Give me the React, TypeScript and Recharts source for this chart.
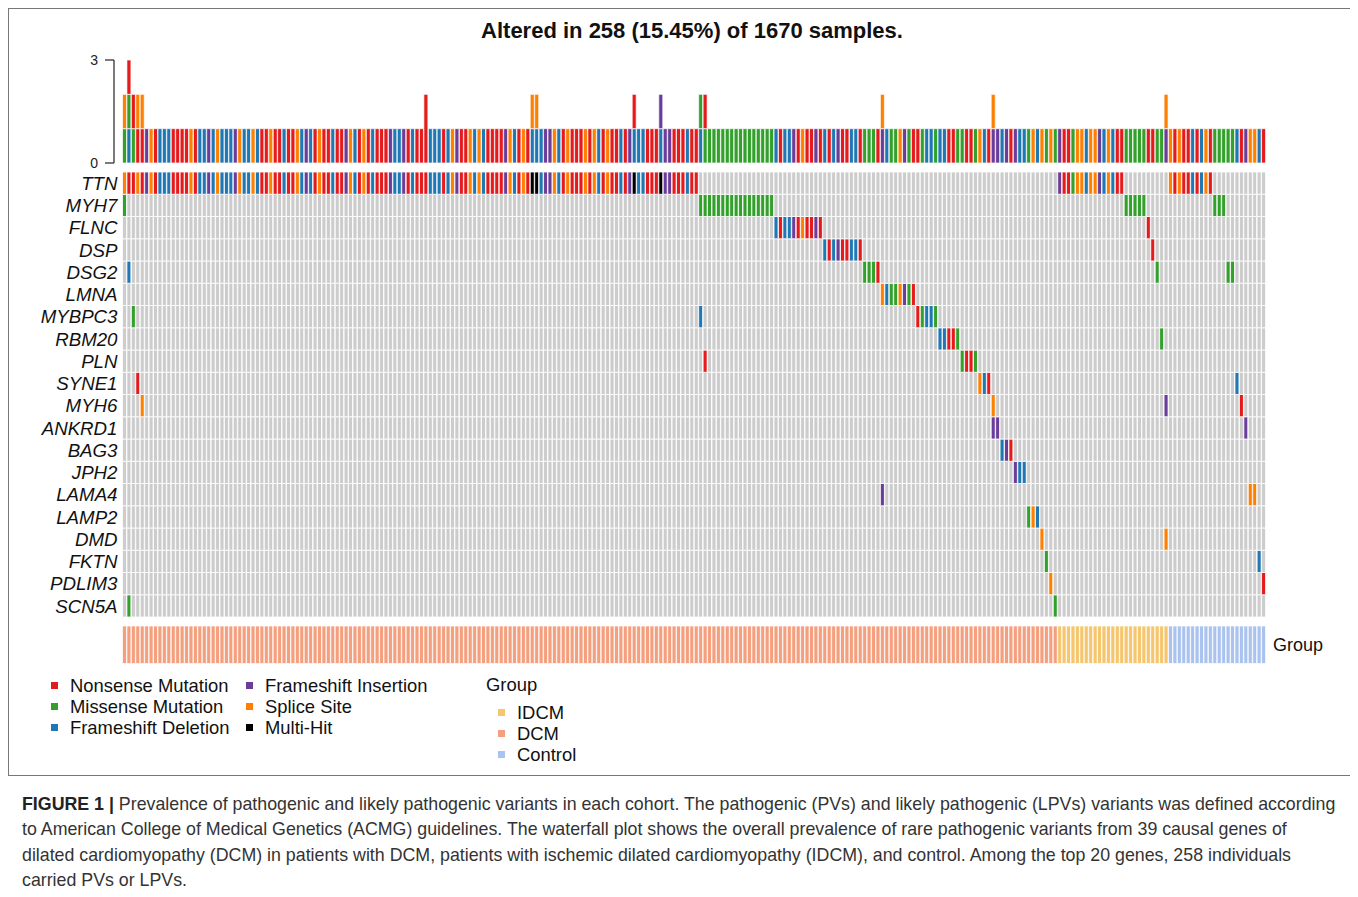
import React from "react";
import { BarChart, Bar, XAxis, YAxis, Cell } from "recharts";

// ---------------- DATA ----------------
const GENES = [
  "TTN", "MYH7", "FLNC", "DSP", "DSG2", "LMNA", "MYBPC3", "RBM20", "PLN", "SYNE1",
  "MYH6", "ANKRD1", "BAG3", "JPH2", "LAMA4", "LAMP2", "DMD", "FKTN", "PDLIM3", "SCN5A",
];
const TOTAL_SAMPLES = 1670;
const GROUP_NAMES = ["DCM", "IDCM", "Control"];
const GROUP_SIZES = [211, 25, 22];
const LEGEND_GROUP_ORDER = ["IDCM", "DCM", "Control"];

// variant codes: N nonsense, M missense, D frameshift deletion, I frameshift insertion, S splice site, H multi-hit
const VARIANT_CODES = ["N", "M", "D", "I", "S", "H"];
const VARIANT_LABELS = [
  "Nonsense Mutation", "Missense Mutation", "Frameshift Deletion",
  "Frameshift Insertion", "Splice Site", "Multi-Hit",
];
const TOP_STACK_ORDER = ["D", "M", "N", "I", "S"];
const TOP_TICKS = [0, 3];

// runs of consecutive samples: [first sample index, codes]
const TTN_DCM = [
  "SNNSNISNDD", "DNNNNSNDDI", "DSDDDISDDS", "DNNSNNDNNS", "DIDNSNNDNN",
  "ISDNSNDNNN", "IDDINDNNND", "DDNDSINNSD", "SDNNNNISDN", "SNHHDIISDN",
  "SNNNSNSDNS", "NNDNIHDDNN", "NHIINNNDNN",
].join("");
const RUNS_TTN: [number, string][] = [[0, TTN_DCM], [211, "INNMSSDSSIDSDNN"], [236, "SNSNNDNDSN"]];
const RUNS_MYH7: [number, string][] = [[0, "M"], [130, "MMMMMMMMMMMMMMMMM"], [226, "MMMMM"], [246, "MMM"]];
const RUNS_FLNC: [number, string][] = [[147, "DNDDINSNNIN"], [231, "N"]];
const RUNS_DSP: [number, string][] = [[158, "DNDINNDDN"], [232, "N"]];
const RUNS_DSG2: [number, string][] = [[1, "D"], [167, "MMMN"], [233, "M"], [249, "MM"]];
const RUNS_LMNA: [number, string][] = [[171, "SDMMSIMN"]];
const RUNS_MYBPC3: [number, string][] = [[2, "M"], [130, "D"], [179, "NMDDM"]];
const RUNS_RBM20: [number, string][] = [[184, "DDNNM"], [234, "M"]];
const RUNS_PLN: [number, string][] = [[131, "N"], [189, "MNNM"]];
const RUNS_SYNE1: [number, string][] = [[3, "N"], [193, "SDN"], [251, "D"]];
const RUNS_MYH6: [number, string][] = [[4, "S"], [196, "S"], [235, "I"], [252, "N"]];
const RUNS_ANKRD1: [number, string][] = [[196, "II"], [253, "I"]];
const RUNS_BAG3: [number, string][] = [[198, "DIN"]];
const RUNS_JPH2: [number, string][] = [[201, "IDD"]];
const RUNS_LAMA4: [number, string][] = [[171, "I"], [254, "SS"]];
const RUNS_LAMP2: [number, string][] = [[204, "MSD"]];
const RUNS_DMD: [number, string][] = [[207, "S"], [235, "S"]];
const RUNS_FKTN: [number, string][] = [[208, "M"], [256, "D"]];
const RUNS_PDLIM3: [number, string][] = [[209, "S"], [257, "N"]];
const RUNS_SCN5A: [number, string][] = [[1, "M"], [210, "M"]];

// variants in genes outside the top 20 (counted in the top bar only)
const EXTRA_VARIANTS: [number, string][] = [[68, "N"]];
// composition of multi-hit cells
const MULTI_HIT_PARTS: [number, string][] = [[92, "DS"], [93, "DS"], [115, "DN"], [121, "DI"]];

// ---------------- STYLE ----------------
const VARIANT_COLORS: Record<string, string> = {
  N: "#E41A1C", M: "#33A02C", D: "#1F78B4", I: "#6A3D9A", S: "#FF7F00", H: "#000000",
};
const GROUP_COLORS: Record<string, string> = { DCM: "#F4A07F", IDCM: "#F5C66E", Control: "#AAC3EE" };
const BG = "#CCCCCC";
const FONT = "'Liberation Sans', Arial, Helvetica, sans-serif";

// ---------------- DERIVED ----------------
const GENE_RUNS: Record<string, [number, string][]> = {
  TTN: RUNS_TTN, MYH7: RUNS_MYH7, FLNC: RUNS_FLNC, DSP: RUNS_DSP, DSG2: RUNS_DSG2,
  LMNA: RUNS_LMNA, MYBPC3: RUNS_MYBPC3, RBM20: RUNS_RBM20, PLN: RUNS_PLN, SYNE1: RUNS_SYNE1,
  MYH6: RUNS_MYH6, ANKRD1: RUNS_ANKRD1, BAG3: RUNS_BAG3, JPH2: RUNS_JPH2, LAMA4: RUNS_LAMA4,
  LAMP2: RUNS_LAMP2, DMD: RUNS_DMD, FKTN: RUNS_FKTN, PDLIM3: RUNS_PDLIM3, SCN5A: RUNS_SCN5A,
};
const N_SAMPLES = GROUP_SIZES.reduce((a, b) => a + b, 0);

const MATRIX: Record<string, string[]> = {};
GENES.forEach((g) => {
  const arr: string[] = new Array(N_SAMPLES).fill("");
  GENE_RUNS[g].forEach(([start, codes]) => {
    for (let k = 0; k < codes.length; k++) arr[start + k] = codes[k];
  });
  MATRIX[g] = arr;
});

const sampleGroup: string[] = [];
GROUP_NAMES.forEach((name, gi) => {
  for (let k = 0; k < GROUP_SIZES[gi]; k++) sampleGroup.push(name);
});

const multiMap: Record<number, string> = {};
MULTI_HIT_PARTS.forEach(([s, c]) => (multiMap[s] = c));

const matrixData = Array.from({ length: N_SAMPLES }, (_, i) => {
  const row: Record<string, number> = { sample: i };
  GENES.forEach((g) => (row[g] = 1));
  return row;
});

const topData = Array.from({ length: N_SAMPLES }, (_, i) => {
  const row: Record<string, number> = { sample: i };
  TOP_STACK_ORDER.forEach((c) => (row[c] = 0));
  GENES.forEach((g) => {
    const c = MATRIX[g][i];
    if (!c) return;
    if (c === "H") {
      (multiMap[i] || "").split("").forEach((p) => (row[p] += 1));
    } else row[c] += 1;
  });
  EXTRA_VARIANTS.forEach(([s, c]) => {
    if (s === i) row[c] += 1;
  });
  return row;
});

const groupData = Array.from({ length: N_SAMPLES }, (_, i) => ({ sample: i, v: 1 }));

const genePct: Record<string, string> = {};
GENES.forEach((g) => {
  const n = MATRIX[g].filter((c) => c !== "").length;
  genePct[g] = `${Math.round((n / TOTAL_SAMPLES) * 100)}%`;
});

const GENE_TICKS = GENES.map((_, k) => k + 0.5);
const geneAt = (v: number) => GENES[GENES.length - 1 - Math.floor(v)];

// ---------------- LAYOUT ----------------
const PLOT_LEFT = 122.5;
const PLOT_RIGHT = 1266;
const RIGHT_AXIS_W = 80;
const MATRIX_TOP = 172.2;
const ROW_H = 22.25;

const legendText: React.CSSProperties = {
  position: "absolute",
  fontSize: 18.4,
  lineHeight: "21px",
  color: "#111",
  whiteSpace: "nowrap",
};

function Square({ x, y, color }: { x: number; y: number; color: string }) {
  return (
    <div
      style={{ position: "absolute", left: x, top: y - 3.5, width: 7, height: 7, background: color }}
    />
  );
}

export default function App() {
  const reversedGenes = [...GENES].reverse();
  const legendRows = VARIANT_CODES.map((c, k) => ({
    code: c,
    label: VARIANT_LABELS[k],
    col: Math.floor(k / 3),
    row: k % 3,
  }));

  return (
    <div
      style={{
        position: "relative",
        width: 1358,
        height: 897,
        margin: -8,
        background: "#fff",
        fontFamily: FONT,
        overflow: "hidden",
      }}
    >
      {/* frame */}
      <div
        style={{
          position: "absolute",
          left: 8,
          top: 8,
          width: 1343,
          height: 766,
          border: "1px solid #777",
        }}
      />

      {/* title */}
      <div
        style={{
          position: "absolute",
          left: 292,
          top: 18,
          width: 800,
          textAlign: "center",
          fontSize: 22,
          lineHeight: "26px",
          fontWeight: "bold",
          color: "#111",
        }}
      >
        Altered in 258 (15.45%) of 1670 samples.
      </div>

      {/* top bar chart */}
      <div style={{ position: "absolute", left: 74, top: 52 }}>
        <BarChart
          width={PLOT_RIGHT - 74}
          height={124}
          data={topData}
          margin={{ top: 8, right: 0, bottom: 13, left: 0 }}
          barCategoryGap={0}
          barGap={0}
        >
          <XAxis dataKey="sample" type="category" hide padding={{ left: PLOT_LEFT - 114, right: 0 }} />
          <YAxis
            type="number"
            domain={[0, 3]}
            ticks={TOP_TICKS}
            width={40}
            tickSize={9}
            tickMargin={7}
            axisLine={{ stroke: "#333", strokeWidth: 1.3 }}
            tickLine={{ stroke: "#333", strokeWidth: 1.3 }}
            tick={{ fontSize: 14, fill: "#222" }}
            interval={0}
          />
          {TOP_STACK_ORDER.map((c) => (
            <Bar
              key={c}
              dataKey={c}
              stackId="t"
              fill={VARIANT_COLORS[c]}
              stroke="#fff"
              strokeWidth={0.7}
              isAnimationActive={false}
            />
          ))}
        </BarChart>
      </div>

      {/* oncoplot matrix */}
      <div style={{ position: "absolute", left: 0, top: MATRIX_TOP }}>
        <BarChart
          width={PLOT_RIGHT + RIGHT_AXIS_W}
          height={ROW_H * GENES.length}
          data={matrixData}
          margin={{ top: 0, right: 0, bottom: 0, left: 0 }}
          barCategoryGap={0}
          barGap={0}
        >
          <XAxis dataKey="sample" type="category" hide />
          <YAxis
            yAxisId="genes"
            type="number"
            domain={[0, GENES.length]}
            ticks={GENE_TICKS}
            tickFormatter={(v: number) => geneAt(v)}
            width={PLOT_LEFT}
            axisLine={false}
            tickLine={false}
            tickSize={0}
            tickMargin={5}
            interval={0}
            tick={{ fontSize: 18.7, fontStyle: "italic", fill: "#111" }}
          />
          <YAxis
            yAxisId="pct"
            orientation="right"
            type="number"
            domain={[0, GENES.length]}
            ticks={GENE_TICKS}
            tickFormatter={(v: number) => genePct[geneAt(v)]}
            width={RIGHT_AXIS_W}
            axisLine={false}
            tickLine={false}
            tickSize={0}
            tickMargin={4}
            interval={0}
            tick={{ fontSize: 18, fill: "#111" }}
          />
          {reversedGenes.map((g) => (
            <Bar
              key={g}
              dataKey={g}
              yAxisId="genes"
              stackId="m"
              fill={BG}
              stroke="#fff"
              strokeWidth={0.8}
              isAnimationActive={false}
            >
              {matrixData.map((_, i) => {
                const c = MATRIX[g][i];
                return <Cell key={i} fill={c ? VARIANT_COLORS[c] : BG} />;
              })}
            </Bar>
          ))}
        </BarChart>
      </div>

      {/* group annotation */}
      <div style={{ position: "absolute", left: 0, top: 626 }}>
        <BarChart
          width={PLOT_RIGHT + RIGHT_AXIS_W}
          height={37.5}
          data={groupData}
          margin={{ top: 0, right: 0, bottom: 0, left: PLOT_LEFT }}
          barCategoryGap={0}
          barGap={0}
        >
          <XAxis dataKey="sample" type="category" hide />
          <YAxis
            yAxisId="g"
            orientation="right"
            type="number"
            domain={[0, 1]}
            ticks={[0.5]}
            tickFormatter={() => "Group"}
            width={RIGHT_AXIS_W}
            axisLine={false}
            tickLine={false}
            tickSize={0}
            tickMargin={7}
            interval={0}
            tick={{ fontSize: 18, fill: "#111" }}
          />
          <Bar dataKey="v" yAxisId="g" stroke="#fff" strokeWidth={0.7} isAnimationActive={false}>
            {groupData.map((_, i) => (
              <Cell key={i} fill={GROUP_COLORS[sampleGroup[i]]} />
            ))}
          </Bar>
        </BarChart>
      </div>

      {/* variant legend */}
      {legendRows.map((r) => {
        const sx = r.col === 0 ? 51 : 246;
        const tx = r.col === 0 ? 70 : 265;
        const cy = 685 + r.row * 21;
        return (
          <React.Fragment key={r.code}>
            <Square x={sx} y={cy} color={VARIANT_COLORS[r.code]} />
            <div style={{ ...legendText, left: tx, top: cy - 10.5 }}>{r.label}</div>
          </React.Fragment>
        );
      })}

      {/* group legend */}
      <div style={{ ...legendText, left: 486, top: 684 - 10.5 }}>Group</div>
      {LEGEND_GROUP_ORDER.map((g, k) => {
        const cy = 712 + k * 21;
        return (
          <React.Fragment key={g}>
            <Square x={498} y={cy} color={GROUP_COLORS[g]} />
            <div style={{ ...legendText, left: 517, top: cy - 10.5 }}>{g}</div>
          </React.Fragment>
        );
      })}

      {/* caption */}
      <div
        style={{
          position: "absolute",
          left: 22,
          top: 792,
          fontSize: 17.8,
          lineHeight: "25.3px",
          color: "#333",
          whiteSpace: "nowrap",
        }}
      >
        <b style={{ color: "#222" }}>FIGURE 1 |</b> Prevalence of pathogenic and likely pathogenic variants in
        each cohort. The pathogenic (PVs) and likely pathogenic (LPVs) variants was defined according
        <br />
        to American College of Medical Genetics (ACMG) guidelines. The waterfall plot shows the overall
        prevalence of rare pathogenic variants from 39 causal genes of
        <br />
        dilated cardiomyopathy (DCM) in patients with DCM, patients with ischemic dilated cardiomyopathy (IDCM),
        and control. Among the top 20 genes, 258 individuals
        <br />
        carried PVs or LPVs.
      </div>
    </div>
  );
}
